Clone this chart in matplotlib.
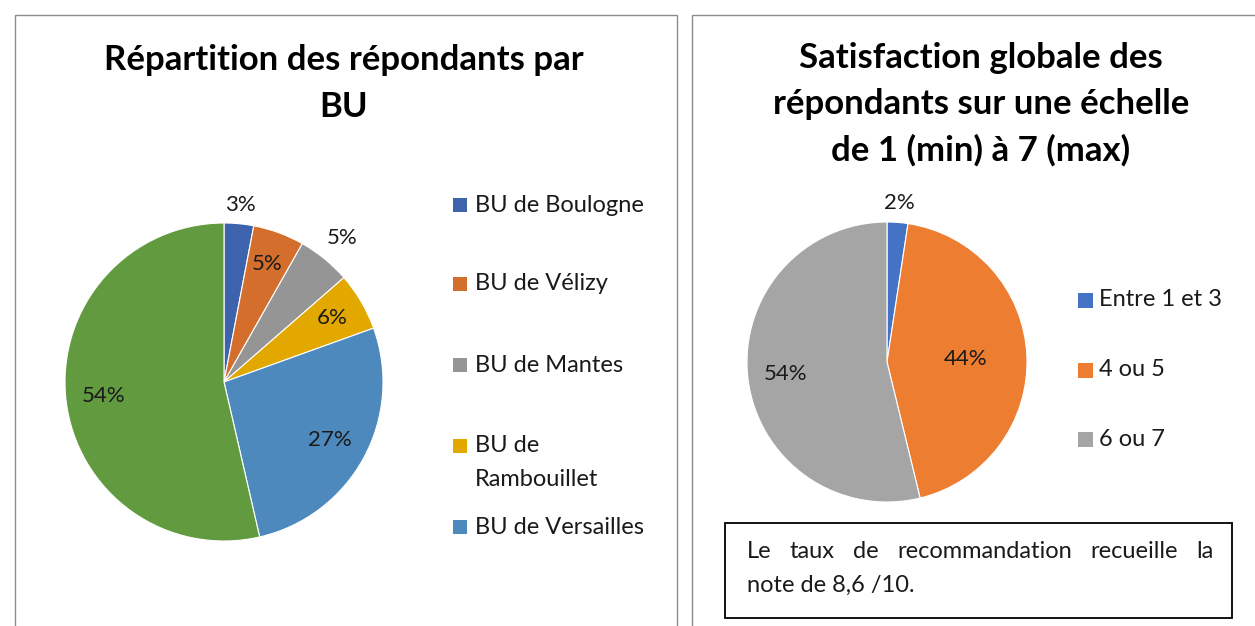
import matplotlib
matplotlib.use("Agg")
import matplotlib.pyplot as plt
from matplotlib.patches import Rectangle
import numpy as np

plt.rcParams['font.family'] = ['Lato', 'DejaVu Sans']

# left chart: répartition par BU
bu_names = ["BU de Boulogne", "BU de Vélizy", "BU de Mantes", "BU de\nRambouillet", "BU de Versailles", "Autres"]
bu_share = [3.0, 5.2, 5.4, 5.9, 26.9, 53.6]
bu_labels = ["3%", "5%", "5%", "6%", "27%", "54%"]
bu_colors = ["#3c63ab", "#d46e2c", "#959595", "#e2a800", "#4e89bd", "#629a3f"]

# right chart: satisfaction globale
sat_names = ["Entre 1 et 3", "4 ou 5", "6 ou 7"]
sat_share = [2.4, 43.8, 53.8]
sat_labels = ["2%", "44%", "54%"]
sat_colors = ["#4472c4", "#ed7d31", "#a5a5a5"]

W, H = 1255, 626
fig = plt.figure(figsize=(W / 100, H / 100), dpi=100)


def fx(x):
    return x / W


def fy(y):
    return 1 - y / H


# panel frames
fig.patches.append(Rectangle((fx(15), fy(640)), fx(677) - fx(15), fy(15) - fy(640),
                             transform=fig.transFigure, fill=False, ec="#8c8c8c", lw=1))
fig.patches.append(Rectangle((fx(692), fy(640)), fx(1262) - fx(692), fy(15) - fy(640),
                             transform=fig.transFigure, fill=False, ec="#8c8c8c", lw=1))


def draw_pie(cx, cy, r, values, labels, colors, dists):
    ax = fig.add_axes([fx(cx - r), fy(cy + r), 2 * r / W, 2 * r / H])
    wedges, _ = ax.pie(values, colors=colors, startangle=90, counterclock=False,
                       wedgeprops=dict(edgecolor="white", linewidth=0.8))
    ax.set_xlim(-1, 1)
    ax.set_ylim(-1, 1)
    ax.set_aspect("equal")
    ax.axis("off")
    for w, lab, d in zip(wedges, labels, dists):
        a = np.deg2rad((w.theta1 + w.theta2) / 2)
        ax.text(d * np.cos(a), d * np.sin(a), lab, ha="center", va="center",
                fontsize=16, color="#1a1a1a")
    return wedges


w1 = draw_pie(224, 382, 159, bu_share, bu_labels, bu_colors,
              [1.12, 0.79, 1.17, 0.79, 0.76, 0.76])
w2 = draw_pie(887, 362, 140, sat_share, sat_labels, sat_colors,
              [1.14, 0.56, 0.73])

# titles
fig.text(fx(344), fy(60), "Répartition des répondants par", ha="center", va="center",
         fontsize=25, fontweight="bold")
fig.text(fx(344), fy(107), "BU", ha="center", va="center", fontsize=25, fontweight="bold")
for i, line in enumerate(["Satisfaction globale des", "répondants sur une échelle",
                          "de 1 (min) à 7 (max)"]):
    fig.text(fx(981), fy(58 + 46 * i), line, ha="center", va="center",
             fontsize=25, fontweight="bold")

# legends
leg1_y = [205, 284, 365, 446, 527]
for w, name, y in zip(w1, bu_names, leg1_y):
    fig.patches.append(Rectangle((fx(453), fy(y + 7)), 14 / W, 14 / H,
                                 transform=fig.transFigure, fc=w.get_facecolor(), ec="none"))
    lines = name.split("\n")
    for k, ln in enumerate(lines):
        fig.text(fx(475), fy(y + 33 * k), ln, ha="left", va="center", fontsize=17,
                 color="#1a1a1a")

leg2_y = [300, 370, 439]
for w, name, y in zip(w2, sat_names, leg2_y):
    fig.patches.append(Rectangle((fx(1078), fy(y + 8)), 15 / W, 15 / H,
                                 transform=fig.transFigure, fc=w.get_facecolor(), ec="none"))
    fig.text(fx(1099), fy(y), name, ha="left", va="center", fontsize=17, color="#1a1a1a")

# note box
fig.patches.append(Rectangle((fx(725), fy(618)), fx(1232) - fx(725), fy(523) - fy(618),
                             transform=fig.transFigure, fill=False, ec="black", lw=1.3))
words = "Le taux de recommandation recueille la".split()
fig.canvas.draw()
renderer = fig.canvas.get_renderer()
x_left, x_right = 747, 1213
txts = [fig.text(0, fy(552), wd, ha="left", va="center", fontsize=17, color="#1a1a1a")
        for wd in words]
widths = [t.get_window_extent(renderer).width for t in txts]
gap = (x_right - x_left - sum(widths)) / (len(words) - 1)
x = x_left
for t, wdt in zip(txts, widths):
    t.set_x(fx(x))
    x += wdt + gap
fig.text(fx(747), fy(585), "note de 8,6 /10.", ha="left", va="center", fontsize=17,
         color="#1a1a1a")

fig.savefig("out.png", dpi=100, facecolor="white")
